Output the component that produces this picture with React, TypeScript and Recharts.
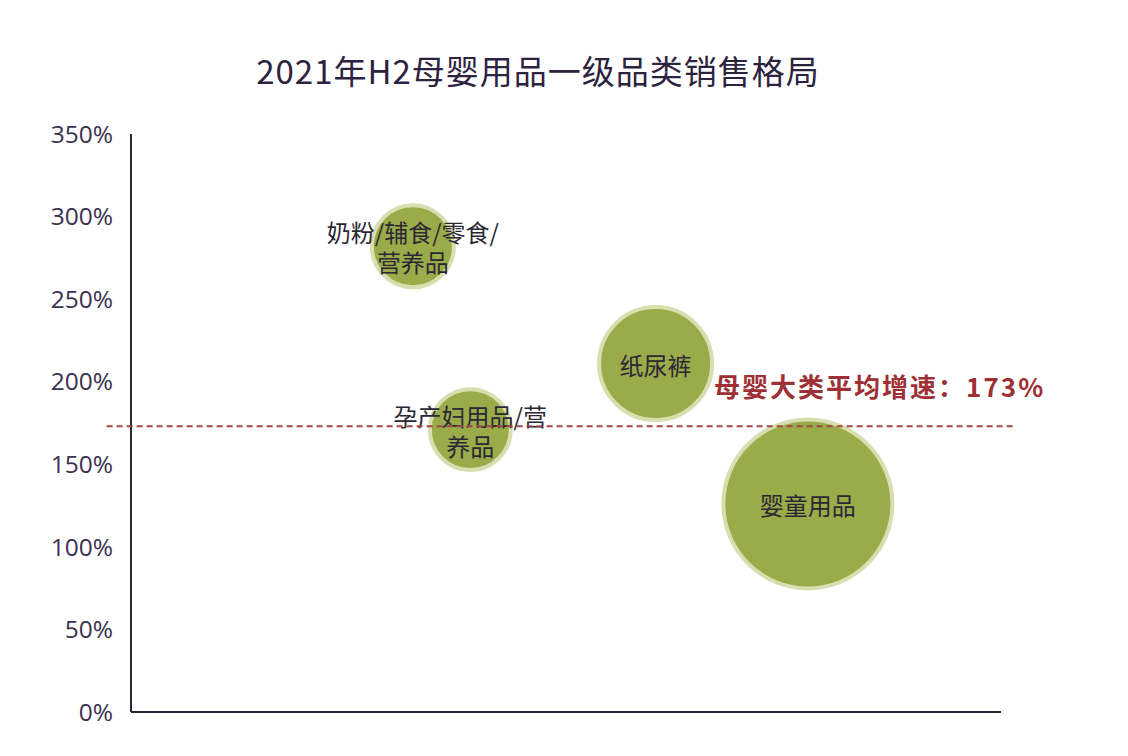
import { ReferenceLine, Scatter, ScatterChart, XAxis, YAxis, ZAxis } from "recharts";

const categories = ["奶粉/辅食/零食/营养品", "孕产妇用品/营养品", "纸尿裤", "婴童用品"];
const labelLines = [["奶粉/辅食/零食/", "营养品"], ["孕产妇用品/营", "养品"], ["纸尿裤"], ["婴童用品"]];
const xValues = [32.4, 39.0, 60.3, 77.8];
const growthValues = [282, 171, 211, 126];
const shareValues = [2.5, 2.44, 4.6, 10];
const yTicks = [0, 50, 100, 150, 200, 250, 300, 350];
const avgGrowth = 173;

const data = categories.map((name, i) => ({
  name,
  x: xValues[i],
  y: growthValues[i],
  z: shareValues[i],
  lines: labelLines[i],
}));

const MAX_R = 87;

function Bubble(props: any) {
  const { cx, cy, payload } = props;
  const r = props.width ? props.width / 2 : Math.sqrt((props.size ?? 0) / Math.PI);
  const lines: string[] = payload?.lines ?? [];
  return (
    <g>
      <circle cx={cx} cy={cy} r={Math.max(r - 2.5, 0)} fill="#9aab4a" stroke="#d8deb0" strokeWidth={4} />
      <text
        textAnchor="middle"
        fill="#2b2833"
        fontSize={24}
        fontFamily='"Noto Sans CJK SC", sans-serif'
        dominantBaseline="central"
      >
        {lines.map((l, i) => (
          <tspan key={i} x={cx} y={cy + (i - (lines.length - 1) / 2) * 30}>
            {l}
          </tspan>
        ))}
      </text>
    </g>
  );
}

function AvgLabel(props: any) {
  const vb = props.viewBox ?? { x: 107, y: 429, width: 906 };
  return (
    <text
      x={vb.x + vb.width + 32}
      y={vb.y - 29}
      textAnchor="end"
      fill="#9e2f35"
      fontSize={26}
      fontWeight="bold"
      letterSpacing={2}
      fontFamily='"Noto Sans CJK SC", sans-serif'
    >
      {`母婴大类平均增速：${avgGrowth}%`}
    </text>
  );
}

export default function App() {
  return (
    <div style={{ position: "absolute", left: 0, top: 0, width: 1128, height: 756, background: "#fff" }}>
      <div
        style={{
          position: "absolute",
          left: 0,
          top: 50,
          width: 1076,
          textAlign: "center",
          lineHeight: "40px",
          fontSize: 33,
          letterSpacing: 1,
          color: "#2d2340",
          fontFamily: '"Noto Sans CJK SC", sans-serif',
        }}
      >
        2021年H2母婴用品一级品类销售格局
      </div>
      <ScatterChart width={1128} height={756} margin={{ top: 134, right: 127, bottom: 43, left: 0 }}>
        <XAxis
          type="number"
          dataKey="x"
          domain={[0, 100]}
          tick={false}
          tickLine={false}
          height={1}
          axisLine={{ stroke: "#2e2638", strokeWidth: 2 }}
        />
        <YAxis
          type="number"
          dataKey="y"
          domain={[0, 350]}
          ticks={yTicks}
          width={131}
          tickSize={0}
          tickMargin={18}
          tickLine={false}
          axisLine={{ stroke: "#2e2638", strokeWidth: 2 }}
          tick={{ fill: "#3b3150", fontSize: 24.5, fontFamily: '"Open Sans", sans-serif' }}
          tickFormatter={(v: number) => `${v}%`}
        />
        <ZAxis type="number" dataKey="z" domain={[0, 10]} range={[0, Math.PI * MAX_R * MAX_R]} />
        <Scatter data={data} shape={<Bubble />} isAnimationActive={false} />
        <ReferenceLine
          segment={[
            { x: -2.8, y: avgGrowth },
            { x: 101.4, y: avgGrowth },
          ]}
          ifOverflow="visible"
          stroke="#a04a42"
          strokeWidth={2}
          strokeDasharray="6 4"
          zIndex={1000}
          label={AvgLabel}
        />
      </ScatterChart>
    </div>
  );
}
